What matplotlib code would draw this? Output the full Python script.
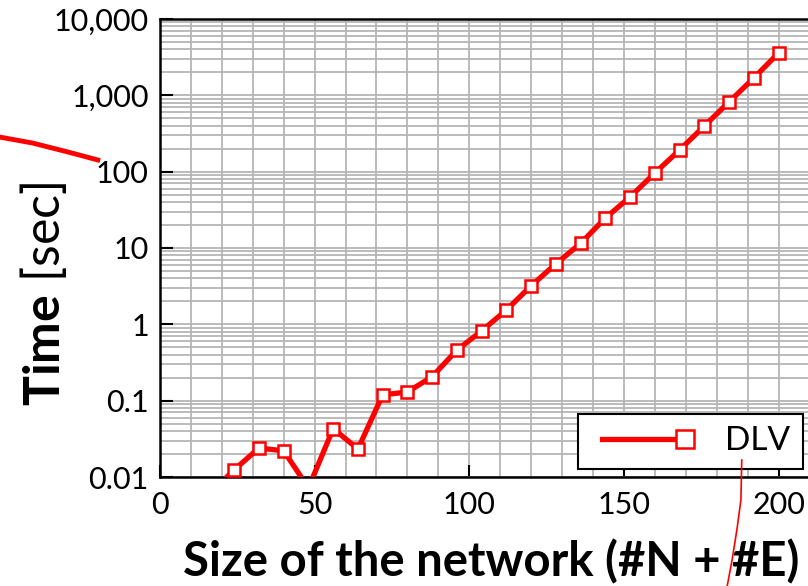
import matplotlib
matplotlib.use("Agg")
import matplotlib.pyplot as plt
from matplotlib.lines import Line2D
from matplotlib.legend_handler import HandlerLine2D
from matplotlib.ticker import FixedLocator, FuncFormatter, MultipleLocator, LogLocator
import numpy as np

plt.rcParams['font.family'] = ['Lato', 'DejaVu Sans']
plt.rcParams['mathtext.fontset'] = 'custom'
plt.rcParams['mathtext.rm'] = 'Lato'
plt.rcParams['mathtext.bf'] = 'Lato:bold'

# network size (#N + #E) and DLV run time in seconds
size = [8, 16, 24, 32, 40, 48, 56, 64, 72, 80, 88, 96, 104, 112, 120, 128,
        136, 144, 152, 160, 168, 176, 184, 192, 200]
dlv_time = [0.004, 0.006, 0.0124, 0.024, 0.022, 0.0072, 0.043, 0.0233, 0.119,
            0.13, 0.206, 0.46, 0.82, 1.54, 3.2, 6.2, 11.5, 24.7, 46.6, 96,
            192, 397, 819, 1687, 3590]
y_ticks = [0.01, 0.1, 1, 10, 100, 1000, 10000]
y_tick_labels = ["0.01", "0.1", "1", "10", "100", "1,000", "10,000"]


class EndMarker(HandlerLine2D):
    # legend line with a bigger marker sitting at its right end
    def create_artists(self, legend, orig_handle, xdescent, ydescent,
                       width, height, fontsize, trans):
        y = height / 2 - ydescent
        x0 = -xdescent
        line = Line2D([x0 + 0.12 * width, x0 + width], [y, y])
        self.update_prop(line, orig_handle, legend)
        line.set_marker('None')
        mk = Line2D([x0 + width], [y])
        self.update_prop(mk, orig_handle, legend)
        mk.set_linestyle('None')
        mk.set_markersize(13)
        line.set_transform(trans)
        mk.set_transform(trans)
        return [line, mk]


fig = plt.figure(figsize=(8.08, 5.86), dpi=100)
ax = fig.add_axes([0.198, 0.186, 0.823, 0.7816])

ax.plot(size, dlv_time, color='#ff0000', lw=3.8, marker='s', ms=8.5,
        mfc='white', mec='#ff0000', mew=1.8, label='DLV', zorder=3)

ax.set_yscale('log')
ax.set_ylim(0.01, 10000)
ax.set_xlim(0, 215)

ax.yaxis.set_major_locator(FixedLocator(y_ticks))
ax.yaxis.set_major_formatter(FuncFormatter(
    lambda v, p: y_tick_labels[y_ticks.index(v)] if v in y_ticks else ""))
ax.yaxis.set_minor_locator(LogLocator(base=10, subs=np.arange(2, 10)))
ax.yaxis.set_minor_formatter(FuncFormatter(lambda v, p: ""))
ax.xaxis.set_major_locator(FixedLocator([0, 50, 100, 150, 200]))
ax.xaxis.set_minor_locator(MultipleLocator(10))

ax.grid(True, which='both', color='#b5b5b5', lw=1.3, zorder=0)
ax.set_axisbelow(True)
ax.tick_params(which='major', direction='in', length=9, width=1.5,
               labelsize=22, pad=8)
ax.tick_params(which='minor', length=0)
ax.tick_params(axis='x', pad=10)
for s in ['left', 'bottom', 'top']:
    ax.spines[s].set_linewidth(1.8)
ax.spines['right'].set_visible(False)

ax.set_xlabel('Size of the network (#N + #E)', fontsize=34, fontweight='bold')
ax.xaxis.set_label_coords(0.498, -0.135)
ax.set_ylabel(r'$\bf{Time}$ [sec]', fontsize=36)
ax.yaxis.set_label_coords(-0.137, 0.40)

leg = ax.legend(loc='lower right', bbox_to_anchor=(0.967, 0.0175),
                borderaxespad=0, handler_map={Line2D: EndMarker()},
                handlelength=2.85, fontsize=24, frameon=True, fancybox=False,
                framealpha=1, edgecolor='black', borderpad=0.38,
                handletextpad=1.2)
leg.get_frame().set_linewidth(1.5)

# stray red strokes present on the original image
fig.add_artist(Line2D([0.0, 0.04, 0.083, 0.121], [0.766, 0.756, 0.741, 0.727],
                      color='#ff0000', lw=3.5, transform=fig.transFigure))
fig.add_artist(Line2D([0.918, 0.917, 0.912, 0.906, 0.9], [0.215, 0.147, 0.096, 0.044, 0.0],
                      color='#ff0000', lw=1.2, transform=fig.transFigure))

fig.savefig('out.png', dpi=100)
